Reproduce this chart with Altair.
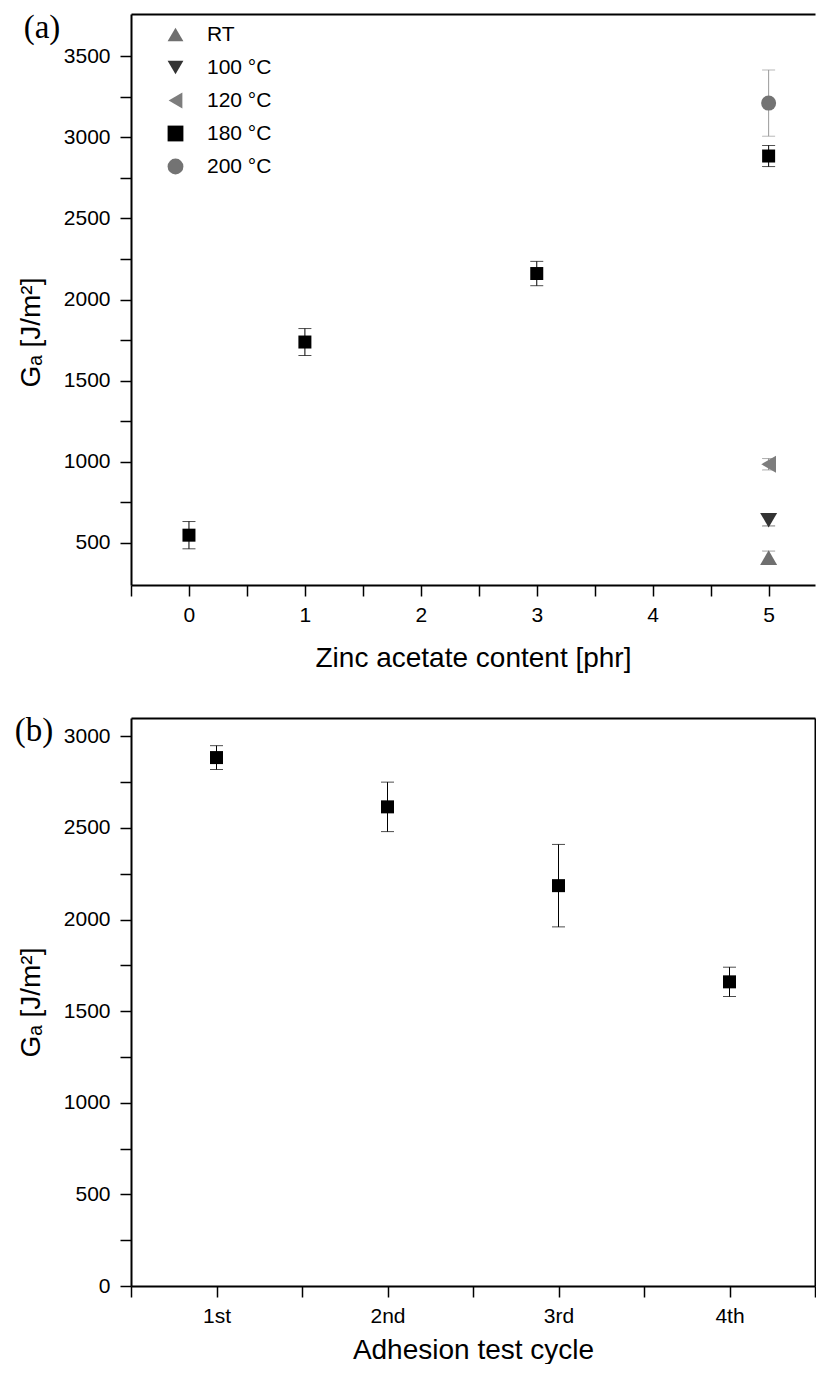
import altair as alt
import pandas as pd

FONT = "Liberation Sans"
SERIF = "Liberation Serif"

# ---------------- panel (a) data ----------------
a_series = ["RT", "100 °C", "120 °C", "180 °C", "200 °C"]
a_colors = ["#6f6f6f", "#333333", "#7d7d7d", "#000000", "#737373"]
a_err_colors = ["#777777", "#444444", "#888888", "#000000", "#9a9a9a"]
a_shapes = ["triangle-up", "triangle-down", "triangle-left", "square", "circle"]
a_sizes = [289, 289, 289, 169, 225]

a_point_series = ["RT", "100 °C", "120 °C", "180 °C", "180 °C", "180 °C", "180 °C", "200 °C"]
a_zinc = [5, 5, 5, 0, 1, 3, 5, 5]
a_ga = [410, 640, 985, 548, 1738, 2160, 2884, 3210]
a_err = [40, 35, 35, 84, 83, 75, 65, 204]

# ---------------- panel (b) data ----------------
b_cycle_labels = ["1st", "2nd", "3rd", "4th"]
b_cycle = [1, 2, 3, 4]
b_ga = [2884, 2615, 2185, 1660]
b_err = [65, 135, 225, 80]

err_col_map = dict(zip(a_series, a_err_colors))
size_map = dict(zip(a_series, a_sizes))
dfa = pd.DataFrame({
    "zinc": a_zinc, "ga": a_ga,
    "lo": [g - e for g, e in zip(a_ga, a_err)],
    "hi": [g + e for g, e in zip(a_ga, a_err)],
    "series": a_point_series,
    "ecol": [err_col_map[s] for s in a_point_series],
    "msize": [size_map[s] for s in a_point_series],
})
dfb = pd.DataFrame({
    "cycle": b_cycle, "ga": b_ga,
    "lo": [g - e for g, e in zip(b_ga, b_err)],
    "hi": [g + e for g, e in zip(b_ga, b_err)],
})

YTITLE = "Gₐ [J/m²]"

# ---------------- panel (a) ----------------
xs_a = alt.Scale(domain=[-0.5, 5.4], nice=False, zero=False)
ys_a = alt.Scale(domain=[241, 3759], nice=False, zero=False)

x_axis_a = alt.Axis(title="Zinc acetate content [phr]",
                    values=[i * 0.5 for i in range(-1, 11)],
                    labelExpr="datum.value % 1 === 0 ? format(datum.value, 'd') : ''",
                    labelOverlap=False, labelFlush=False, titlePadding=19)
y_axis_a = alt.Axis(title=YTITLE, values=[i * 250 for i in range(2, 15)],
                    format="d",
                    labelExpr="datum.value % 500 === 0 ? datum.label : ''",
                    labelOverlap=False, labelPadding=10, titlePadding=18, titleY=318)

leg = alt.Legend(title=None, orient="none", legendX=34, legendY=10, padding=0,
                 labelFont=FONT, labelFontSize=21, labelColor="black",
                 rowPadding=11, labelOffset=21, symbolStrokeWidth=0, symbolSize=250)

rule_a = alt.Chart(dfa).mark_rule(strokeWidth=1).encode(
    x=alt.X("zinc:Q", scale=xs_a, axis=None),
    y=alt.Y("lo:Q", scale=ys_a, axis=y_axis_a),
    y2="hi:Q",
    stroke=alt.Stroke("ecol:N", scale=None),
)
lo_a = alt.Chart(dfa).mark_tick(orient="horizontal", size=13, thickness=1).encode(
    x=alt.X("zinc:Q", scale=xs_a, axis=None),
    y=alt.Y("lo:Q", scale=ys_a, axis=y_axis_a),
    fill=alt.Fill("ecol:N", scale=None),
)
hi_a = alt.Chart(dfa).mark_tick(orient="horizontal", size=13, thickness=1).encode(
    x=alt.X("zinc:Q", scale=xs_a, axis=None),
    y=alt.Y("hi:Q", scale=ys_a, axis=y_axis_a),
    fill=alt.Fill("ecol:N", scale=None),
)
pts_a = alt.Chart(dfa).mark_point(filled=True, opacity=1, strokeWidth=0).encode(
    x=alt.X("zinc:Q", scale=xs_a, axis=x_axis_a),
    y=alt.Y("ga:Q", scale=ys_a, axis=y_axis_a),
    color=alt.Color("series:N", scale=alt.Scale(domain=a_series, range=a_colors), legend=leg),
    shape=alt.Shape("series:N", scale=alt.Scale(domain=a_series, range=a_shapes), legend=leg),
    size=alt.Size("msize:Q", scale=None),
)
top_a = alt.Chart(dfa).mark_point(opacity=0).encode(
    x=alt.X("zinc:Q", scale=xs_a,
            axis=alt.Axis(orient="top", labels=False, ticks=False, title=None)),
    y=alt.Y("ga:Q", scale=ys_a, axis=y_axis_a),
)
lab_a = alt.Chart(pd.DataFrame({"t": ["(a)"]})).mark_text(
    font=SERIF, fontSize=33, align="center", baseline="middle", color="black"
).encode(x=alt.value(-89), y=alt.value(14), text="t:N")

panel_a = alt.layer(rule_a, lo_a, hi_a, pts_a, top_a, lab_a).resolve_axis(
    x="independent").properties(width=684, height=571)

# ---------------- panel (b) ----------------
xs_b = alt.Scale(domain=[0.5, 4.5], nice=False, zero=False)
ys_b = alt.Scale(domain=[0, 3100], nice=False, zero=False)

cyc_js = "[" + ",".join("'" + s + "'" for s in b_cycle_labels) + "]"
x_axis_b = alt.Axis(title="Adhesion test cycle",
                    values=[i * 0.5 for i in range(1, 10)],
                    labelExpr="datum.value % 1 === 0 ? " + cyc_js + "[datum.value - 1] : ''",
                    labelOverlap=False, labelFlush=False, titlePadding=10)
y_axis_b = alt.Axis(title=YTITLE, values=[i * 250 for i in range(0, 13)],
                    format="d",
                    labelExpr="datum.value % 500 === 0 ? datum.label : ''",
                    labelOverlap=False, labelPadding=10, titlePadding=18)

rule_b = alt.Chart(dfb).mark_rule(strokeWidth=1, color="black").encode(
    x=alt.X("cycle:Q", scale=xs_b, axis=None),
    y=alt.Y("lo:Q", scale=ys_b, axis=None),
    y2="hi:Q",
)
lo_b = alt.Chart(dfb).mark_tick(orient="horizontal", size=13, thickness=1, color="black").encode(
    x=alt.X("cycle:Q", scale=xs_b, axis=None),
    y=alt.Y("lo:Q", scale=ys_b, axis=None),
)
hi_b = alt.Chart(dfb).mark_tick(orient="horizontal", size=13, thickness=1, color="black").encode(
    x=alt.X("cycle:Q", scale=xs_b, axis=None),
    y=alt.Y("hi:Q", scale=ys_b, axis=None),
)
pts_b = alt.Chart(dfb).mark_point(filled=True, opacity=1, strokeWidth=0, shape="square",
                                  size=169, color="black").encode(
    x=alt.X("cycle:Q", scale=xs_b, axis=x_axis_b),
    y=alt.Y("ga:Q", scale=ys_b, axis=y_axis_b),
)
frame_b = alt.Chart(dfb).mark_point(opacity=0).encode(
    x=alt.X("cycle:Q", scale=xs_b,
            axis=alt.Axis(orient="top", labels=False, ticks=False, title=None)),
    y=alt.Y("ga:Q", scale=ys_b,
            axis=alt.Axis(orient="right", labels=False, ticks=False, title=None)),
)
lab_b = alt.Chart(pd.DataFrame({"t": ["(b)"]})).mark_text(
    font=SERIF, fontSize=33, align="center", baseline="middle", color="black"
).encode(x=alt.value(-97), y=alt.value(12.5), text="t:N")

panel_b = alt.layer(rule_b, lo_b, hi_b, pts_b, frame_b, lab_b).resolve_axis(
    x="independent", y="independent").properties(width=684, height=568)

chart = alt.vconcat(panel_a, panel_b, spacing=42).resolve_legend(
    color="independent", shape="independent"
).properties(
    padding={"left": 6, "top": 4, "right": 0, "bottom": 0}
).configure_view(stroke=None).configure_axis(
    domainColor="black", domainWidth=2, tickColor="black", tickWidth=1.5,
    tickSize=11, labelFont=FONT, labelFontSize=21, labelColor="black",
    titleFont=FONT, titleFontSize=28, titleFontWeight="normal", titleColor="black",
    labelPadding=8, grid=False,
)

chart.save("out.html", embed_options={"renderer": "svg", "actions": False})
